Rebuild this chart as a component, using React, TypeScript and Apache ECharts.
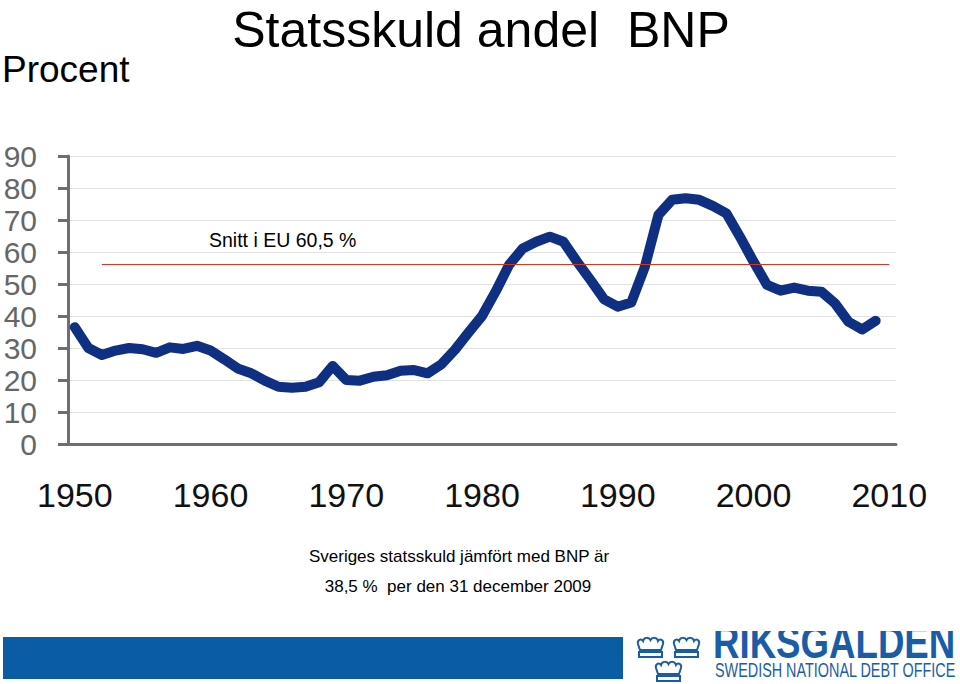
import React, { useEffect, useRef } from "react";
import * as echarts from "echarts";

const years = [
  "1950","1951","1952","1953","1954","1955","1956","1957","1958","1959",
  "1960","1961","1962","1963","1964","1965","1966","1967","1968","1969",
  "1970","1971","1972","1973","1974","1975","1976","1977","1978","1979",
  "1980","1981","1982","1983","1984","1985","1986","1987","1988","1989",
  "1990","1991","1992","1993","1994","1995","1996","1997","1998","1999",
  "2000","2001","2002","2003","2004","2005","2006","2007","2008","2009",
  "2010",
];

const debtShare = [
  36.5, 30.0, 27.8, 29.2, 30.0, 29.6, 28.5, 30.2, 29.7, 30.7,
  29.2, 26.5, 23.6, 22.1, 19.8, 17.9, 17.6, 17.9, 19.3, 24.4,
  20.0, 19.8, 21.0, 21.5, 22.9, 23.1, 22.1, 24.9, 29.4, 34.8,
  40.0, 47.6, 56.0, 61.1, 63.2, 64.8, 63.2, 57.0, 51.2, 45.2,
  42.9, 44.2, 55.4, 71.6, 76.3, 76.8, 76.3, 74.4, 72.1, 64.8,
  57.0, 49.7, 47.9, 48.9, 47.9, 47.6, 44.0, 38.2, 35.8, 38.5,
];

const yTicks = { min: 0, max: 90, interval: 10 };
const euLineStart = "1952";
const euLineEnd = "2010";
const euLineValue = 56.2;

const titleText = "Statsskuld andel  BNP";
const unitText = "Procent";
const euLabel = "Snitt i EU 60,5 %";
const noteLine1 = "Sveriges statsskuld jämfört med BNP är";
const noteLine2 = "38,5 %  per den 31 december 2009";
const logoText = "RIKSGÄLDEN";
const logoSub = "SWEDISH NATIONAL DEBT OFFICE";

const crownPath =
  "M1 7 C0 3 4 1 6 4 C7 0 12 0 13.5 3 C15 0 20 0 21 4 C23 1 27 3 26 7 L24 13 L3 13 Z M2 15 L25 15 L25 20 L2 20 Z";

let registered = false;
function ensureShapes() {
  if (registered) return;
  echarts.graphic.registerShape("crown", echarts.graphic.extendPath(crownPath, {}));
  registered = true;
}

const FONT = "'Liberation Sans', Arial, sans-serif";
const AXIS_GRAY = "#6f6f6f";
const LOGO_BLUE = "#1a5da6";

export default function App() {
  const ref = useRef<HTMLDivElement>(null);
  useEffect(() => {
    if (!ref.current) return;
    ensureShapes();
    const chart = echarts.init(ref.current, null, { renderer: "svg" });
    const crownStyle = { fill: "none", stroke: LOGO_BLUE, lineWidth: 2 };
    chart.setOption({
      animation: false,
      backgroundColor: "#ffffff",
      textStyle: { fontFamily: FONT },
      grid: { left: 68, right: 64, top: 156, bottom: 240, containLabel: false },
      xAxis: {
        type: "category",
        data: years,
        boundaryGap: true,
        axisLine: { show: true, lineStyle: { color: AXIS_GRAY, width: 3 } },
        axisTick: { show: false },
        axisLabel: {
          interval: 9,
          margin: 34,
          fontSize: 34,
          color: "#111111",
          fontFamily: FONT,
        },
        splitLine: { show: false },
      },
      yAxis: {
        type: "value",
        min: yTicks.min,
        max: yTicks.max,
        interval: yTicks.interval,
        axisLine: { show: true, lineStyle: { color: AXIS_GRAY, width: 3 } },
        axisTick: { show: true, length: 10, lineStyle: { color: AXIS_GRAY, width: 3 } },
        axisLabel: { margin: 31, fontSize: 30, color: "#666666", fontFamily: FONT },
        splitLine: { show: true, lineStyle: { color: "#e2e2e2", width: 1 } },
      },
      series: [
        {
          type: "line",
          data: debtShare,
          symbol: "none",
          smooth: false,
          lineStyle: { color: "#0e2f82", width: 10, join: "round", cap: "round" },
          markLine: {
            silent: true,
            symbol: "none",
            label: { show: false },
            lineStyle: { color: "#d8341f", width: 1, type: "solid" },
            data: [[{ coord: [euLineStart, euLineValue] }, { coord: [euLineEnd, euLineValue] }]],
          },
        },
      ],
      graphic: [
        {
          type: "text",
          x: 481,
          y: 30,
          style: {
            text: titleText,
            fontSize: 50,
            fontFamily: FONT,
            fill: "#000000",
            textAlign: "center",
            textVerticalAlign: "middle",
          },
        },
        {
          type: "text",
          x: 2,
          y: 69,
          style: {
            text: unitText,
            fontSize: 37,
            fontFamily: FONT,
            fill: "#000000",
            textAlign: "left",
            textVerticalAlign: "middle",
          },
        },
        {
          type: "text",
          x: 209,
          y: 240,
          style: {
            text: euLabel,
            fontSize: 19.5,
            fontFamily: FONT,
            fill: "#000000",
            textAlign: "left",
            textVerticalAlign: "middle",
          },
        },
        {
          type: "text",
          x: 459,
          y: 556,
          style: {
            text: noteLine1,
            fontSize: 17,
            fontFamily: FONT,
            fill: "#000000",
            textAlign: "center",
            textVerticalAlign: "middle",
          },
        },
        {
          type: "text",
          x: 458,
          y: 586,
          style: {
            text: noteLine2,
            fontSize: 17,
            fontFamily: FONT,
            fill: "#000000",
            textAlign: "center",
            textVerticalAlign: "middle",
          },
        },
        {
          type: "rect",
          shape: { x: 3, y: 637, width: 620, height: 42 },
          style: { fill: "#0a5ca3" },
        },
        { type: "crown", x: 637, y: 637, style: crownStyle },
        { type: "crown", x: 673, y: 637, style: crownStyle },
        { type: "crown", x: 655, y: 661, style: crownStyle },
        {
          type: "text",
          x: 713,
          y: 642,
          scaleX: 0.78,
          style: {
            text: logoText,
            fontSize: 47,
            fontWeight: "bold",
            fontFamily: FONT,
            fill: LOGO_BLUE,
            textAlign: "left",
            textVerticalAlign: "middle",
          },
        },
        {
          type: "rect",
          shape: { x: 705, y: 600, width: 255, height: 31 },
          style: { fill: "#ffffff" },
        },
        {
          type: "text",
          x: 715,
          y: 670,
          scaleX: 0.72,
          style: {
            text: logoSub,
            fontSize: 20,
            fontFamily: FONT,
            fill: LOGO_BLUE,
            textAlign: "left",
            textVerticalAlign: "middle",
          },
        },
      ],
    });
    return () => chart.dispose();
  }, []);
  return <div ref={ref} style={{ width: 960, height: 684, position: "fixed", left: 0, top: 0 }} />;
}
